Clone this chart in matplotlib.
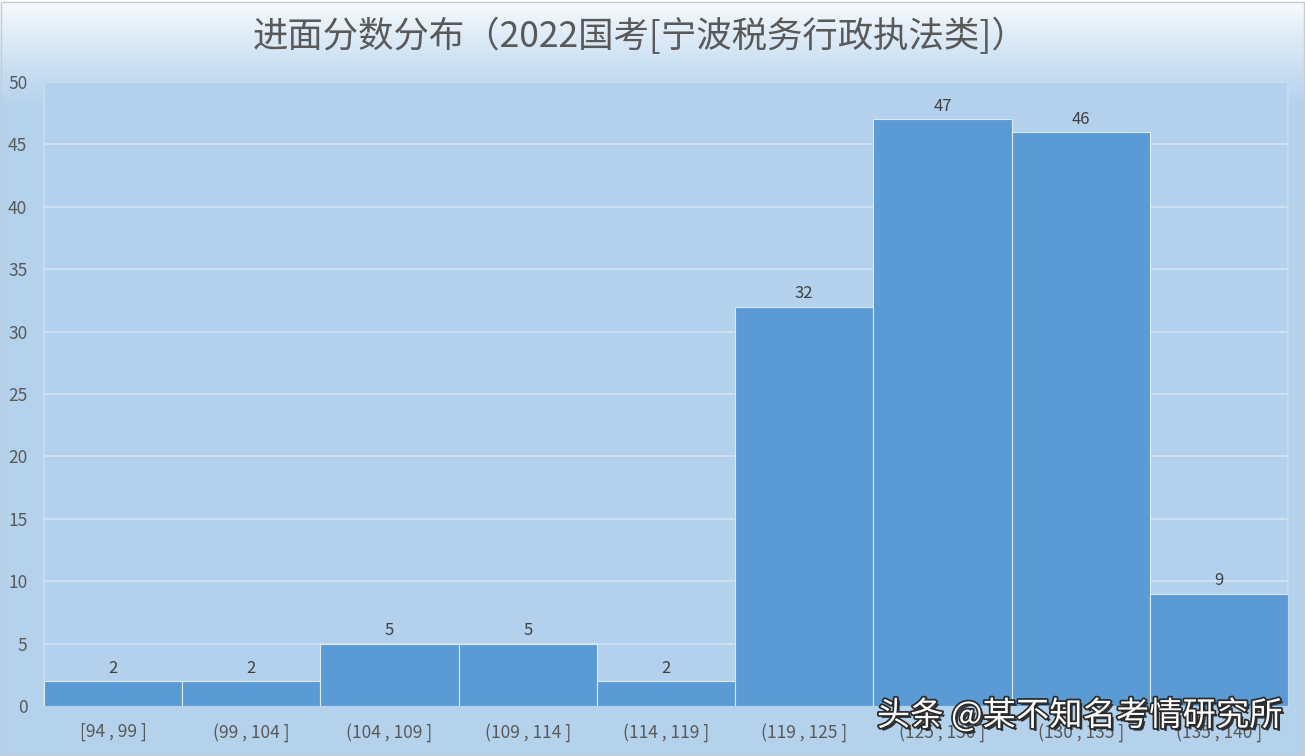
import matplotlib.pyplot as plt
import matplotlib.patheffects as pe
import numpy as np

plt.rcParams["font.family"] = ["Noto Sans CJK SC", "DejaVu Sans"]

bins = ["[94 , 99 ]", "(99 , 104 ]", "(104 , 109 ]", "(109 , 114 ]", "(114 , 119 ]",
        "(119 , 125 ]", "(125 , 130 ]", "(130 , 135 ]", "(135 , 140 ]"]
counts = [2, 2, 5, 5, 2, 32, 47, 46, 9]
title = "进面分数分布（2022国考[宁波税务行政执法类]）"
watermark = "头条 @某不知名考情研究所"


def main() -> None:
    W, H = 1305, 756
    fig = plt.figure(figsize=(W / 100, H / 100), dpi=100)

    # background gradient: white at top to light blue
    bg = fig.add_axes([0, 0, 1, 1], zorder=-10)
    rows = np.linspace(0, 1, H)
    t = np.clip(rows / 0.14, 0, 1)[:, None] ** 0.8
    top = np.array([0.99, 0.995, 1.0])
    bot = np.array([0.706, 0.824, 0.925])
    img = top[None, :] * (1 - t) + bot[None, :] * t
    img = np.repeat(img[:, None, :], W, axis=1)
    bg.imshow(img, aspect="auto", extent=(0, 1, 0, 1), origin="upper")
    bg.set_axis_off()
    fig.patches.append(plt.Rectangle((0.001, 0.001), 0.998, 0.997, transform=fig.transFigure,
                                     fill=False, edgecolor="#c8ccd0", linewidth=1.0))

    left, right = 44 / W, 1288 / W
    bottom, top_y = 1 - 706 / H, 1 - 82 / H
    ax = fig.add_axes([left, bottom, right - left, top_y - bottom])
    ax.set_facecolor("#b3d1ec")

    x = np.arange(len(counts))
    bars = ax.bar(x, counts, width=1.0, color="#5b9bd5", edgecolor="#dbe8f5",
                  linewidth=0.8, zorder=3)
    for rect, v in zip(bars, counts):
        ax.text(rect.get_x() + rect.get_width() / 2, v + 0.35, f"{v}",
                ha="center", va="bottom", fontsize=12, color="#404040", zorder=4)

    ax.set_xlim(-0.5, len(counts) - 0.5)
    ax.set_ylim(0, 50)
    ax.set_yticks(np.arange(0, 51, 5))
    ax.set_xticks(x, bins)
    ax.grid(axis="y", color="#d4e3f2", linewidth=1.2, zorder=0)
    ax.set_axisbelow(True)
    for s in ax.spines.values():
        s.set_color("#c9dcee")
        s.set_linewidth(1.2)
    ax.spines["bottom"].set_visible(False)
    ax.tick_params(length=0, labelsize=12.5, labelcolor="#595959")
    ax.tick_params(axis="x", pad=12)
    ax.tick_params(axis="y", pad=12)

    fig.text(640 / W, 1 - 37 / H, title, ha="center", va="center",
             fontsize=25.5, color="#595959")

    fig.text(1283 / W, 1 - 716 / H, watermark, ha="right", va="center",
             fontsize=24, color="white",
             path_effects=[pe.withSimplePatchShadow(offset=(2, -2), shadow_rgbFace="#222222", alpha=0.9),
                           pe.withStroke(linewidth=2.5, foreground="#2a2a2a")], zorder=10)

    fig.savefig("out.png", dpi=100)
    plt.close(fig)


if __name__ == "__main__":
    main()
